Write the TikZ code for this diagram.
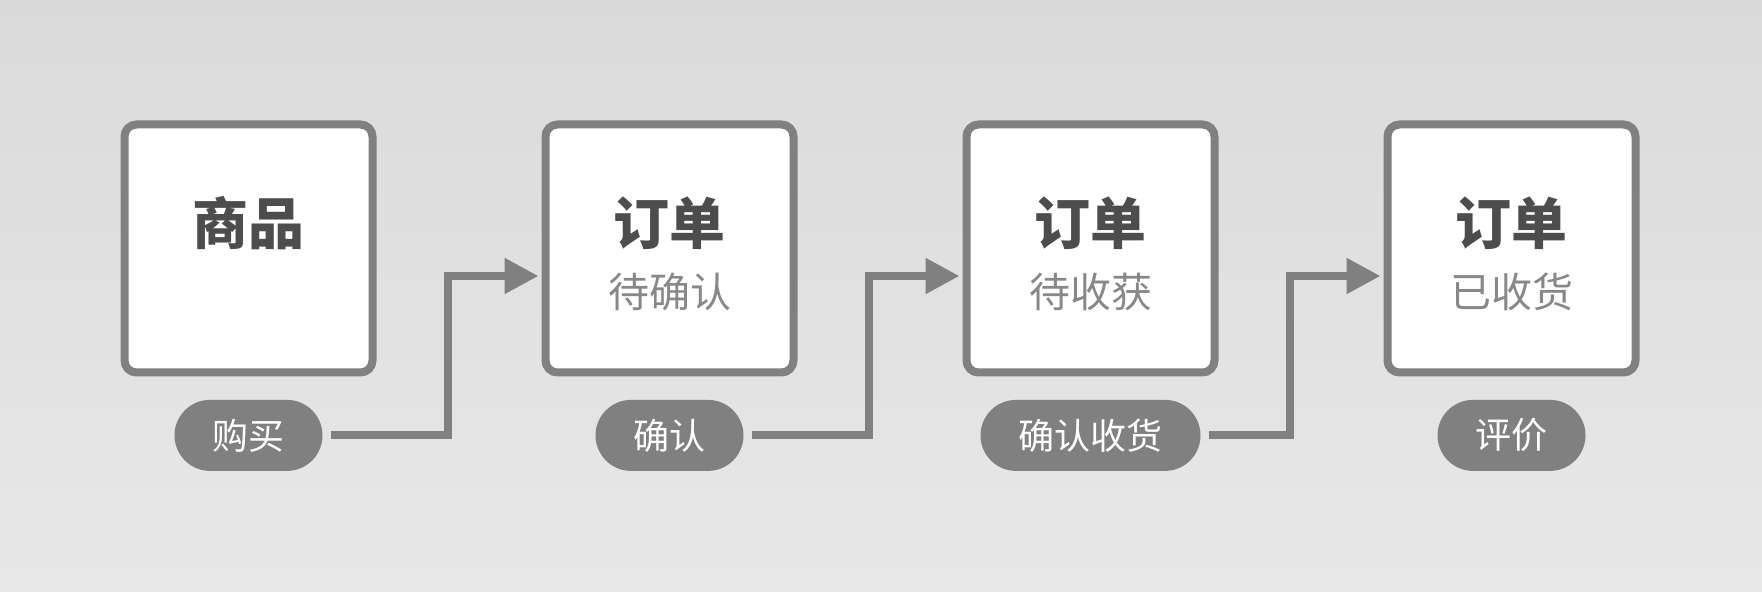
\documentclass[tikz,border=0pt]{standalone}
\usepackage{fontspec}
\setmainfont{Noto Sans CJK SC}
\usepackage{tikz}
\usetikzlibrary{
    positioning,
    calc,
    arrows.meta
}
\definecolor{CinzaBorda}{HTML}{808080}
\definecolor{CinzaTitulo}{HTML}{4D4D4D}
\definecolor{CinzaSub}{HTML}{888888}
\definecolor{FundoTopo}{HTML}{DADADA}
\definecolor{FundoBase}{HTML}{E8E8E8}

\tikzset{
    etapa/.style={
        draw=CinzaBorda,
        fill=white,
        line width=4pt,
        rounded corners=6pt,
        minimum width=124pt,
        minimum height=124pt
    },
    titulo/.style={
        text=CinzaTitulo,
        font=\fontsize{28pt}{32pt}\selectfont\bfseries
    },
    subtitulo/.style={
        text=CinzaSub,
        font=\fontsize{20.5pt}{24pt}\selectfont
    },
    acao/.style={
        fill=CinzaBorda,
        text=white,
        rounded corners=17.75pt,
        minimum height=35.5pt,
        inner xsep=19pt,
        font=\fontsize{18pt}{22pt}\selectfont
    },
    fluxo/.style={
        draw=CinzaBorda,
        line width=4pt,
        -{Triangle[length=17pt,width=17pt]}
    }
}

\begin{document}
\begin{tikzpicture}

    % fundo
    \fill[top color=FundoTopo, bottom color=FundoBase]
        (0,0) rectangle (881pt,-296pt);
    \useasboundingbox (0,0) rectangle (881pt,-296pt);

    % etapas
    \node[etapa] (b1) at (124.25pt,-124.25pt) {};
    \node[etapa, right=82.5pt of b1] (b2) {};
    \node[etapa, right=82.5pt of b2] (b3) {};
    \node[etapa, right=82.5pt of b3] (b4) {};

    % textos das etapas
    \node[titulo] (t1) at ([yshift=12.75pt]b1.center) {商品};
    \node[titulo] (t2) at ([yshift=12.75pt]b2.center) {订单};
    \node[titulo] (t3) at ([yshift=12.75pt]b3.center) {订单};
    \node[titulo] (t4) at ([yshift=12.75pt]b4.center) {订单};
    \node[subtitulo] (s2) at ([yshift=-21.75pt]b2.center) {待确认};
    \node[subtitulo] (s3) at ([yshift=-21.75pt]b3.center) {待收获};
    \node[subtitulo] (s4) at ([yshift=-21.75pt]b4.center) {已收货};

    % acoes
    \node[acao, below=11.5pt of b1] (p1) {购买};
    \node[acao, below=11.5pt of b2] (p2) {确认};
    \node[acao, below=11.5pt of b3] (p3) {确认收货};
    \node[acao, below=11.5pt of b4] (p4) {评价};

    % ligacoes
    \draw[fluxo] ([xshift=4pt]p1.east)
        -| ([xshift=-47pt,yshift=-13.75pt]b2.west)
        -- ([xshift=-1.5pt,yshift=-13.75pt]b2.west);
    \draw[fluxo] ([xshift=4pt]p2.east)
        -| ([xshift=-47pt,yshift=-13.75pt]b3.west)
        -- ([xshift=-1.5pt,yshift=-13.75pt]b3.west);
    \draw[fluxo] ([xshift=4pt]p3.east)
        -| ([xshift=-47pt,yshift=-13.75pt]b4.west)
        -- ([xshift=-1.5pt,yshift=-13.75pt]b4.west);

\end{tikzpicture}
\end{document}
